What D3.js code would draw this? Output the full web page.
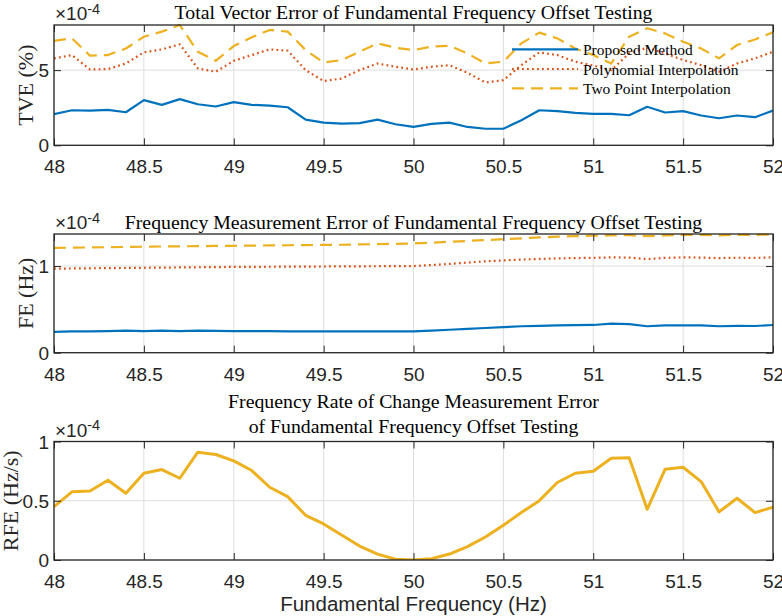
<!DOCTYPE html>
<html>
<head>
<meta charset="utf-8">
<script src="https://cdn.jsdelivr.net/npm/d3@7"></script>
<style>
  body { margin: 0; background: #fff; }
  svg { display: block; }
</style>
</head>
<body>
<svg id="chart"></svg>
<script>
// frequency points (Hz)
var freq = [48.0, 48.1, 48.2, 48.3, 48.4, 48.5, 48.6, 48.7, 48.8, 48.9,
            49.0, 49.1, 49.2, 49.3, 49.4, 49.5, 49.6, 49.7, 49.8, 49.9,
            50.0, 50.1, 50.2, 50.3, 50.4, 50.5, 50.6, 50.7, 50.8, 50.9,
            51.0, 51.1, 51.2, 51.3, 51.4, 51.5, 51.6, 51.7, 51.8, 51.9, 52.0];
var xTicks = [48, 48.5, 49, 49.5, 50, 50.5, 51, 51.5, 52];
var xTickLabels = ["48", "48.5", "49", "49.5", "50", "50.5", "51", "51.5", "52"];

// TVE (x10^-4 %)
var tveProposed = [2.07, 2.33, 2.3, 2.35, 2.2, 3.0, 2.69, 3.07, 2.73, 2.58,
                   2.87, 2.69, 2.64, 2.53, 1.71, 1.51, 1.44, 1.47, 1.71, 1.4,
                   1.22, 1.42, 1.51, 1.22, 1.1, 1.1, 1.67, 2.33, 2.27, 2.16,
                   2.09, 2.09, 2.0, 2.56, 2.18, 2.27, 1.98, 1.8, 1.98, 1.87, 2.31];
var tvePoly = [5.78, 6.0, 5.04, 5.07, 5.44, 6.18, 6.38, 6.71, 5.11, 4.89,
               5.62, 6.0, 6.38, 6.29, 5.0, 4.27, 4.44, 5.0, 5.44, 5.22,
               5.04, 5.22, 5.33, 4.82, 4.18, 4.33, 5.33, 6.18, 6.0, 5.56,
               5.3, 5.0, 6.11, 6.49, 6.11, 5.67, 5.33, 4.89, 5.44, 5.78, 6.22];
var tveTwoPoint = [6.95, 7.11, 5.96, 6.0, 6.44, 7.22, 7.56, 8.0, 6.22, 5.62,
                   6.6, 7.18, 7.67, 7.56, 6.33, 5.51, 5.67, 6.22, 6.78, 6.49,
                   6.33, 6.56, 6.62, 6.11, 5.44, 5.56, 6.78, 7.49, 7.11, 6.44,
                   6.0, 5.44, 7.22, 7.78, 7.44, 6.89, 6.44, 5.78, 6.67, 7.04, 7.51];

// FE (x10^-4 Hz)
var feProposed = [0.24, 0.245, 0.245, 0.25, 0.255, 0.25, 0.255, 0.25, 0.255, 0.252,
                  0.25, 0.248, 0.248, 0.246, 0.246, 0.245, 0.245, 0.245, 0.245, 0.246,
                  0.247, 0.255, 0.265, 0.275, 0.285, 0.295, 0.305, 0.31, 0.315, 0.318,
                  0.32, 0.335, 0.33, 0.305, 0.315, 0.315, 0.315, 0.305, 0.31, 0.308, 0.32];
var fePoly = [0.97, 0.972, 0.974, 0.976, 0.978, 0.98, 0.982, 0.984, 0.986, 0.988,
              0.99, 0.991, 0.992, 0.993, 0.994, 0.995, 0.996, 0.997, 0.998, 0.999,
              1.0, 1.012, 1.025, 1.04, 1.055, 1.065, 1.075, 1.082, 1.088, 1.092,
              1.095, 1.1, 1.098, 1.08, 1.095, 1.1, 1.098, 1.092, 1.096, 1.094, 1.1];
var feTwoPoint = [1.21, 1.212, 1.215, 1.218, 1.22, 1.223, 1.226, 1.228, 1.23, 1.232,
                  1.234, 1.236, 1.238, 1.24, 1.242, 1.244, 1.246, 1.25, 1.253, 1.256,
                  1.26, 1.27, 1.28, 1.29, 1.3, 1.31, 1.32, 1.33, 1.34, 1.345,
                  1.35, 1.355, 1.356, 1.345, 1.355, 1.36, 1.36, 1.355, 1.36, 1.36, 1.365];

// RFE (x10^-4 Hz/s)
var rfeProposed = [0.45, 0.575, 0.583, 0.673, 0.563, 0.732, 0.763, 0.69, 0.91, 0.89,
                   0.837, 0.755, 0.614, 0.535, 0.377, 0.304, 0.211, 0.118, 0.05, 0.006,
                   0.0, 0.011, 0.05, 0.113, 0.194, 0.293, 0.4, 0.501, 0.654, 0.732,
                   0.749, 0.859, 0.862, 0.428, 0.766, 0.783, 0.662, 0.406, 0.521, 0.4, 0.445];

var seriesNames = ["Proposed Method", "Polynomial Interpolation", "Two Point Interpolation"];

var W = 782, H = 616;
var serif = "'Liberation Serif', 'Times New Roman', serif";
var sans = "'Liberation Sans', Arial, sans-serif";
var axisColor = "#262626";
var gridColor = "#dedede";
var blue = "#0072BD", red = "#D95319", yellow = "#EDB120";

var svg = d3.select("#chart").attr("width", W).attr("height", H);

var xScale = d3.scaleLinear().domain([48, 52]).range([54, 773]);

var styles = {
  proposed: { color: blue, width: 2.2, dash: null },
  poly: { color: red, width: 2.2, dash: "1.8,3.2" },
  two: { color: yellow, width: 2.2, dash: "12,7" },
  rfe: { color: yellow, width: 3, dash: null }
};

function drawPanel(p) {
  var yScale = d3.scaleLinear().domain(p.domain).range([p.bottom, p.top]);
  var g = svg.append("g");

  // grid
  g.selectAll(".vgrid").data(xTicks).enter().append("line")
    .attr("x1", d => xScale(d)).attr("x2", d => xScale(d))
    .attr("y1", p.top).attr("y2", p.bottom)
    .attr("stroke", gridColor).attr("stroke-width", 1);
  g.selectAll(".hgrid").data(p.yTicks).enter().append("line")
    .attr("x1", xScale.range()[0]).attr("x2", xScale.range()[1])
    .attr("y1", d => yScale(d)).attr("y2", d => yScale(d))
    .attr("stroke", gridColor).attr("stroke-width", 1);

  // clip
  var clipId = "clip" + p.id;
  svg.append("clipPath").attr("id", clipId).append("rect")
    .attr("x", xScale.range()[0]).attr("y", p.top - 2)
    .attr("width", xScale.range()[1] - xScale.range()[0])
    .attr("height", p.bottom - p.top + 2);

  var line = d3.line().x((d, i) => xScale(freq[i])).y(d => yScale(d));

  p.series.forEach(function(s) {
    var st = styles[s.style];
    g.append("path")
      .datum(s.values)
      .attr("clip-path", "url(#" + clipId + ")")
      .attr("d", line)
      .attr("fill", "none")
      .attr("stroke", st.color)
      .attr("stroke-width", st.width)
      .attr("stroke-dasharray", st.dash)
      .attr("stroke-linejoin", "round");
  });

  // axes with inward ticks
  var fmtX = d => xTickLabels[xTicks.indexOf(d)];
  var xb = g.append("g").attr("transform", "translate(0," + p.bottom + ")")
    .call(d3.axisBottom(xScale).tickValues(xTicks).tickSize(-7).tickPadding(12).tickFormat(fmtX));
  var xt = g.append("g").attr("transform", "translate(0," + p.top + ")")
    .call(d3.axisTop(xScale).tickValues(xTicks).tickSize(-7).tickFormat(""));
  var yl = g.append("g").attr("transform", "translate(" + xScale.range()[0] + ",0)")
    .call(d3.axisLeft(yScale).tickValues(p.yTicks).tickSize(-7).tickPadding(5).tickFormat(d => p.yLabels[p.yTicks.indexOf(d)]));
  var yr = g.append("g").attr("transform", "translate(" + xScale.range()[1] + ",0)")
    .call(d3.axisRight(yScale).tickValues(p.yTicks).tickSize(-7).tickFormat(""));

  [xb, xt, yl, yr].forEach(function(a) {
    a.select(".domain").remove();
    a.selectAll(".tick line").attr("stroke", axisColor).attr("stroke-width", 1);
    a.selectAll("text").attr("fill", "#262626").style("font-family", sans).style("font-size", "19px");
  });
  xb.selectAll("text").attr("dy", "0.85em");
  yl.selectAll("text").attr("dy", "0.35em");

  // box
  g.append("rect")
    .attr("x", xScale.range()[0]).attr("y", p.top)
    .attr("width", xScale.range()[1] - xScale.range()[0])
    .attr("height", p.bottom - p.top)
    .attr("fill", "none").attr("stroke", axisColor).attr("stroke-width", 1.3);

  // exponent
  var ex = g.append("text")
    .attr("x", xScale.range()[0] + 1).attr("y", p.top - 5)
    .style("font-family", sans).style("font-size", "19px").attr("fill", "#262626");
  ex.append("tspan").text("\u00d710");
  ex.append("tspan").attr("dy", "-6.5").style("font-size", "14.5px").text("-4");

  // title lines
  p.title.forEach(function(t, i) {
    g.append("text")
      .attr("x", (xScale.range()[0] + xScale.range()[1]) / 2)
      .attr("y", p.titleY + i * 25)
      .attr("text-anchor", "middle")
      .style("font-family", serif).style("font-size", "19.8px")
      .attr("fill", "#000")
      .text(t);
  });

  // y label
  g.append("text")
    .attr("transform", "translate(" + p.yLabelX + "," + ((p.top + p.bottom) / 2) + ")rotate(-90)")
    .attr("text-anchor", "middle")
    .attr("dominant-baseline", "central")
    .style("font-family", serif).style("font-size", "22px")
    .attr("fill", "#262626")
    .text(p.yLabel);

  return yScale;
}

drawPanel({
  id: 1, top: 25, bottom: 145.3, domain: [0, 8],
  yTicks: [0, 5], yLabels: ["0", "5"],
  title: ["Total Vector Error of Fundamental Frequency Offset Testing"], titleY: 18.5,
  yLabel: "TVE (%)", yLabelX: 25,
  series: [
    { values: tveTwoPoint, style: "two" },
    { values: tvePoly, style: "poly" },
    { values: tveProposed, style: "proposed" }
  ]
});

drawPanel({
  id: 2, top: 234, bottom: 352.7, domain: [0, 1.37],
  yTicks: [0, 1], yLabels: ["0", "1"],
  title: ["Frequency Measurement Error of Fundamental Frequency Offset Testing"], titleY: 228.5,
  yLabel: "FE (Hz)", yLabelX: 25,
  series: [
    { values: feTwoPoint, style: "two" },
    { values: fePoly, style: "poly" },
    { values: feProposed, style: "proposed" }
  ]
});

drawPanel({
  id: 3, top: 441.5, bottom: 560, domain: [0, 1],
  yTicks: [0, 0.5, 1], yLabels: ["0", "0.5", "1"],
  title: ["Frequency Rate of Change Measurement Error", "of Fundamental Frequency Offset Testing"], titleY: 408,
  yLabel: "RFE (Hz/s)", yLabelX: 10,
  series: [
    { values: rfeProposed, style: "rfe" }
  ]
});

// legend (top panel, no box)
var legend = svg.append("g");
var legendKeys = ["proposed", "poly", "two"];
var legendY = [49.3, 69, 88.3];
seriesNames.forEach(function(name, i) {
  var st = styles[legendKeys[i]];
  legend.append("line")
    .attr("x1", 512).attr("x2", 578)
    .attr("y1", legendY[i]).attr("y2", legendY[i])
    .attr("stroke", st.color).attr("stroke-width", st.width)
    .attr("stroke-dasharray", st.dash);
  legend.append("text")
    .attr("x", 583).attr("y", legendY[i])
    .attr("dominant-baseline", "central")
    .style("font-family", serif).style("font-size", "15.5px")
    .attr("fill", "#000")
    .text(name);
});

// x label
svg.append("text")
  .attr("x", (xScale.range()[0] + xScale.range()[1]) / 2)
  .attr("y", 611)
  .attr("text-anchor", "middle")
  .style("font-family", sans).style("font-size", "20.5px")
  .attr("fill", "#262626")
  .text("Fundamental Frequency (Hz)");
</script>
</body>
</html>
